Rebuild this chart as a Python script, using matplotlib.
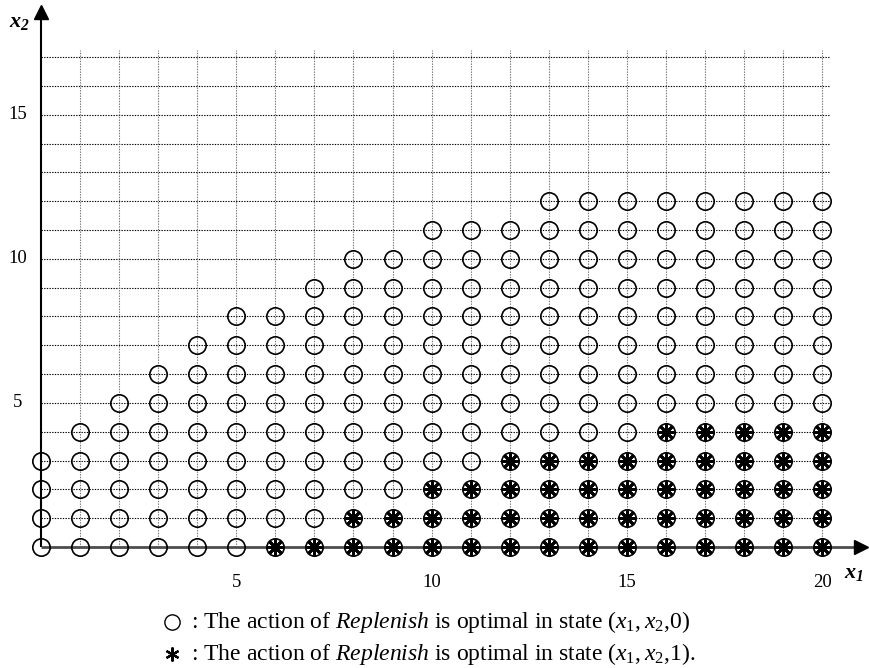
import matplotlib
matplotlib.use("Agg")
import matplotlib.pyplot as plt

plt.rcParams["font.family"] = ["Liberation Serif", "DejaVu Serif"]
plt.rcParams["mathtext.fontset"] = "custom"
plt.rcParams["mathtext.rm"] = "Liberation Serif"
plt.rcParams["mathtext.it"] = "Liberation Serif:italic"
plt.rcParams["mathtext.bf"] = "Liberation Serif:bold"
try:
    plt.rcParams["mathtext.bfit"] = "Liberation Serif:italic:bold"
    BF = r"\mathbfit"
except KeyError:
    BF = r"\mathbf"

# State space: for each x1, highest x2 where Replenish is optimal in (x1, x2, 0)
x1_values = list(range(0, 21))
max_x2_state0 = [3, 4, 5, 6, 7, 8, 8, 9, 10, 10, 11, 11, 11, 12, 12, 12, 12, 12, 12, 12, 12]
# highest x2 where Replenish is optimal in (x1, x2, 1); -1 means none
max_x2_state1 = [-1, -1, -1, -1, -1, -1, 0, 0, 1, 1, 2, 2, 3, 3, 3, 3, 4, 4, 4, 4, 4]

x_ticks = [5, 10, 15, 20]
y_ticks = [5, 10, 15]
grid_x = list(range(1, 21))
grid_y = list(range(1, 18))

circ_x, circ_y, star_x, star_y = [], [], [], []
for x1, top0, top1 in zip(x1_values, max_x2_state0, max_x2_state1):
    for x2 in range(0, top0 + 1):
        circ_x.append(x1)
        circ_y.append(x2)
    for x2 in range(0, top1 + 1):
        star_x.append(x1)
        star_y.append(x2)

fig = plt.figure(figsize=(8.69, 6.68), dpi=100)
ax = fig.add_axes([0, 0, 1, 1])
ax.set_xlim(-1.05, 21.2)
ax.set_ylim(-4.2, 18.98)
ax.axis("off")

# dotted grid
ax.hlines(grid_y, 0, 20.2, colors="k", linestyles=(0, (1.2, 1.2)), linewidth=0.8, zorder=1)
ax.vlines(grid_x, 0, 17.25, colors="0.45", linestyles=(0, (1.2, 1.2)), linewidth=0.8, zorder=1)

# axes with arrowheads
ax.plot([0, 0], [0, 18.4], color="k", lw=1.5, zorder=2, solid_capstyle="butt")
ax.plot([0], [18.55], marker="^", color="k", ms=10, zorder=3)
ax.plot([0, 20.9], [0, 0], color="0.3", lw=2.0, zorder=2, solid_capstyle="butt")
ax.plot([21.0], [0], marker=">", color="k", ms=10, zorder=3)

# states
ax.plot(circ_x, circ_y, "o", mfc="none", mec="k", ms=12.5, mew=1.2, zorder=4, ls="none")
ax.plot(star_x, star_y, marker=(8, 2, 0), color="k", ms=11.5, mew=2.0, zorder=5, ls="none")

# tick labels
for t in x_ticks:
    ax.text(t, -1.25, str(t), fontsize=13.5, ha="center", va="center")
for t in y_ticks:
    ax.text(-0.6, t, str(t), fontsize=13.5, ha="center", va="center")

# axis labels
ax.text(-0.55, 18.2, r"$%s{x}_{%s{2}}$" % (BF, BF), fontsize=16, ha="center", va="center")
ax.text(20.8, -0.92, r"$%s{x}_{%s{1}}$" % (BF, BF), fontsize=16, ha="center", va="center")

# key
ax.plot([3.35], [-2.60], "o", mfc="none", mec="k", ms=11, mew=1.0)
ax.plot([3.35], [-3.71], marker=(6, 2, 0), color="k", ms=10, mew=1.6)
state0 = r"$\mathit{(x}_{\mathrm{1}}\mathit{,x}_{\mathrm{2}}\mathit{,}\mathrm{0}\mathit{)}$"
state1 = r"$\mathit{(x}_{\mathrm{1}}\mathit{,x}_{\mathrm{2}}\mathit{,}\mathrm{1}\mathit{)}$"
ax.text(3.84, -2.60, r": The action of $\mathit{Replenish}$ is optimal in state " + state0,
        fontsize=17, ha="left", va="center")
ax.text(3.84, -3.71, r": The action of $\mathit{Replenish}$ is optimal in state " + state1 + ".",
        fontsize=17, ha="left", va="center")

fig.savefig("out.png", dpi=100)
